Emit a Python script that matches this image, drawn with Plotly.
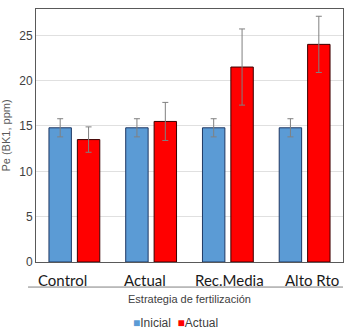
import plotly.graph_objects as go

categories = ["Control", "Actual", "Rec.Media", "Alto Rto"]
inicial = [14.8, 14.8, 14.8, 14.8]
inicial_err = [1.0, 1.0, 1.0, 1.0]
actual = [13.5, 15.5, 21.5, 24.0]
actual_err = [1.4, 2.1, 4.2, 3.1]
y_ticks = [0, 5, 10, 15, 20, 25]
series_names = ["Inicial", "Actual"]
series_colors = ["#5B9BD5", "#FF0000"]
label_pos = [0.085, 0.355, 0.629, 0.899]

fig = go.Figure()
fig.add_trace(go.Bar(
    x=categories, y=inicial, name=series_names[0],
    marker=dict(color=series_colors[0], line=dict(color="#1F3864", width=1)),
    error_y=dict(type="data", array=inicial_err, color="#808080", thickness=1, width=3),
))
fig.add_trace(go.Bar(
    x=categories, y=actual, name=series_names[1],
    marker=dict(color=series_colors[1], line=dict(color="#3A0000", width=1)),
    error_y=dict(type="data", array=actual_err, color="#808080", thickness=1, width=3),
))

fig.update_layout(
    width=352, height=333,
    margin=dict(l=36, r=9, t=9, b=71, autoexpand=False),
    paper_bgcolor="white", plot_bgcolor="white",
    barmode="group", bargap=0.26, bargroupgap=0.21,
    font=dict(family="Liberation Sans, Arial", size=12, color="#404040"),
    showlegend=False,
)
fig.update_xaxes(
    showline=True, mirror=True, linecolor="#595959", linewidth=1,
    showticklabels=False, ticks="",
)
fig.update_yaxes(
    range=[0, 27.9], tickvals=y_ticks,
    showline=True, mirror=True, linecolor="#595959", linewidth=1,
    showgrid=True, gridcolor="#E0E0E0", gridwidth=1, zeroline=False,
    tickfont=dict(size=12, color="#404040"),
    title=dict(text="Pe (BK1, ppm)", font=dict(size=11, color="#595959"), standoff=6),
)
for cat, px in zip(categories, label_pos):
    fig.add_annotation(text=cat, xref="paper", yref="paper", x=px, y=-0.071,
                       xanchor="center", yanchor="middle", showarrow=False,
                       font=dict(family="Lato, Open Sans, sans-serif", size=15, color="#1A1A1A"))
fig.add_shape(type="line", xref="paper", yref="paper", x0=-0.026, x1=1.0, y0=-0.099, y1=-0.099,
              line=dict(color="#808080", width=1))
fig.add_annotation(text="Estrategia de fertilización", xref="paper", yref="paper",
                   x=0.5, y=-0.146, xanchor="center", yanchor="middle", showarrow=False,
                   font=dict(size=11, color="#404040"))
legend_text = "  ".join(
    f"<span style='color:{c}'>■</span>{n}" for n, c in zip(series_names, series_colors)
)
fig.add_annotation(text=legend_text, xref="paper", yref="paper",
                   x=0.455, y=-0.241, xanchor="center", yanchor="middle", showarrow=False,
                   font=dict(size=12, color="#404040"))

fig.write_html("out.html")
